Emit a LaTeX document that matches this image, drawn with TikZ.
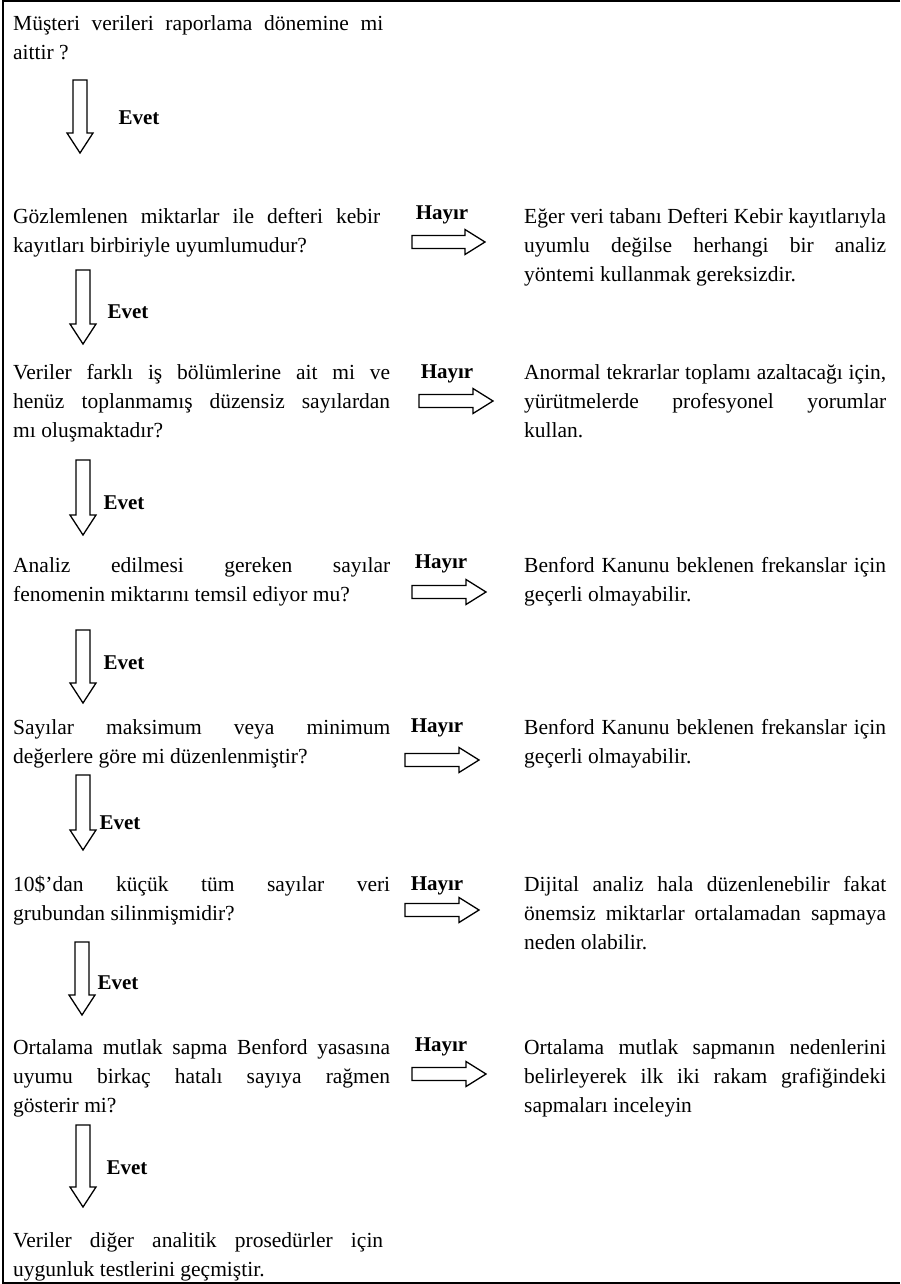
\documentclass[tikz,border=0pt]{standalone}
\usepackage{fontspec}
\setmainfont{Liberation Serif}
\newcommand\lj[2][377pt]{\makebox[#1][s]{\spaceskip=0pt\xspaceskip=0pt\relax #2}}
\newcommand\rj[1]{\makebox[362pt][s]{\spaceskip=0pt\xspaceskip=0pt\relax #1}}
\newcommand\darr[3]{\draw[blk] (#1-7,-#2) -- (#1+7,-#2) -- (#1+7,-#3+20) -- (#1+13,-#3+20) -- (#1,-#3) -- (#1-13,-#3+20) -- (#1-7,-#3+20) -- cycle;}
\newcommand\rarr[3]{\draw[blk] (#1,-#3+6.5) -- (#2-20,-#3+6.5) -- (#2-20,-#3+12.5) -- (#2,-#3) -- (#2-20,-#3-12.5) -- (#2-20,-#3-6.5) -- (#1,-#3-6.5) -- cycle;}
\begin{document}
\begin{tikzpicture}[x=1pt,y=1pt,
  ltxt/.style={anchor=north west, inner sep=0, text width=380pt, align=flush left, font=\fontsize{21.5}{29}\selectfont},
  rtxt/.style={anchor=north west, inner sep=0, text width=364pt, align=flush left, font=\fontsize{21.5}{29}\selectfont},
  lbl/.style={inner sep=0, font=\fontsize{21}{29}\selectfont\bfseries},
  blk/.style={draw, line width=1.3pt, fill=white, line join=miter}]
\useasboundingbox (0,0) rectangle (900,-1284);
\fill[white] (0,0) rectangle (900,-1284);
\draw[line width=2pt] (900,-1) -- (3,-1) -- (3,-1283) -- (900,-1283);

% left column
\node[ltxt] (q1) at (13,-9.7) {\strut\lj[370pt]{Müşteri verileri raporlama dönemine mi}\\aittir ?};
\node[ltxt] (q2) at (13,-202.7) {\strut\lj[367pt]{Gözlemlenen miktarlar ile defteri kebir}\\kayıtları birbiriyle uyumlumudur?};
\node[ltxt] (q3) at (13,-358.7) {\strut\lj{Veriler farklı iş bölümlerine ait mi ve}\\\lj{henüz toplanmamış düzensiz sayılardan}\\mı oluşmaktadır?};
\node[ltxt] (q4) at (13,-551.7) {\strut\lj{Analiz edilmesi gereken sayılar}\\fenomenin miktarını temsil ediyor mu?};
\node[ltxt] (q5) at (13,-713.7) {\strut\lj{Sayılar maksimum veya minimum}\\değerlere göre mi düzenlenmiştir?};
\node[ltxt] (q6) at (13,-870.7) {\strut\lj{10\$’dan küçük tüm sayılar veri}\\grubundan silinmişmidir?};
\node[ltxt] (q7) at (13,-1033.7) {\strut\lj{Ortalama mutlak sapma Benford yasasına}\\\lj{uyumu birkaç hatalı sayıya rağmen}\\gösterir mi?};
\node[ltxt] (q8) at (13,-1226.7) {\strut\lj[370pt]{Veriler diğer analitik prosedürler için}\\uygunluk testlerini geçmiştir.};

% right column
\node[rtxt] (r1) at (524,-202.7) {\strut\rj{Eğer veri tabanı Defteri Kebir kayıtlarıyla}\\\rj{uyumlu değilse herhangi bir analiz}\\yöntemi kullanmak gereksizdir.};
\node[rtxt] (r2) at (524,-358.7) {\strut\rj{Anormal tekrarlar toplamı azaltacağı için,}\\\rj{yürütmelerde profesyonel yorumlar}\\kullan.};
\node[rtxt] (r3) at (524,-551.7) {\strut\rj{Benford Kanunu beklenen frekanslar için}\\geçerli olmayabilir.};
\node[rtxt] (r4) at (524,-713.7) {\strut\rj{Benford Kanunu beklenen frekanslar için}\\geçerli olmayabilir.};
\node[rtxt] (r5) at (524,-870.7) {\strut\rj{Dijital analiz hala düzenlenebilir fakat}\\\rj{önemsiz miktarlar ortalamadan sapmaya}\\neden olabilir.};
\node[rtxt] (r6) at (524,-1033.7) {\strut\rj{Ortalama mutlak sapmanın nedenlerini}\\\rj{belirleyerek ilk iki rakam grafiğindeki}\\sapmaları inceleyin};

% down arrows (Evet)
\darr{80}{80}{153}
\node[lbl] (e1) at (139,-118) {Evet};
\darr{83}{270}{344}
\node[lbl] (e2) at (128,-312) {Evet};
\darr{83}{460}{535}
\node[lbl] (e3) at (124,-503) {Evet};
\darr{83}{630}{703}
\node[lbl] (e4) at (124,-663) {Evet};
\darr{83}{775}{850}
\node[lbl] (e5) at (120,-823) {Evet};
\darr{82}{942}{1015}
\node[lbl] (e6) at (118,-983) {Evet};
\darr{83}{1125}{1207}
\node[lbl] (e7) at (127,-1168) {Evet};

% right arrows (Hayır)
\node[lbl] (h1) at (442,-215) {Hayır};
\rarr{412}{485}{242}
\node[lbl] (h2) at (447,-374) {Hayır};
\rarr{419}{493}{401}
\node[lbl] (h3) at (441,-564) {Hayır};
\rarr{412}{486}{592}
\node[lbl] (h4) at (437,-728) {Hayır};
\rarr{405}{479}{760}
\node[lbl] (h5) at (437,-886) {Hayır};
\rarr{405}{479}{910}
\node[lbl] (h6) at (441,-1047) {Hayır};
\rarr{412}{486}{1074}
\end{tikzpicture}
\end{document}
